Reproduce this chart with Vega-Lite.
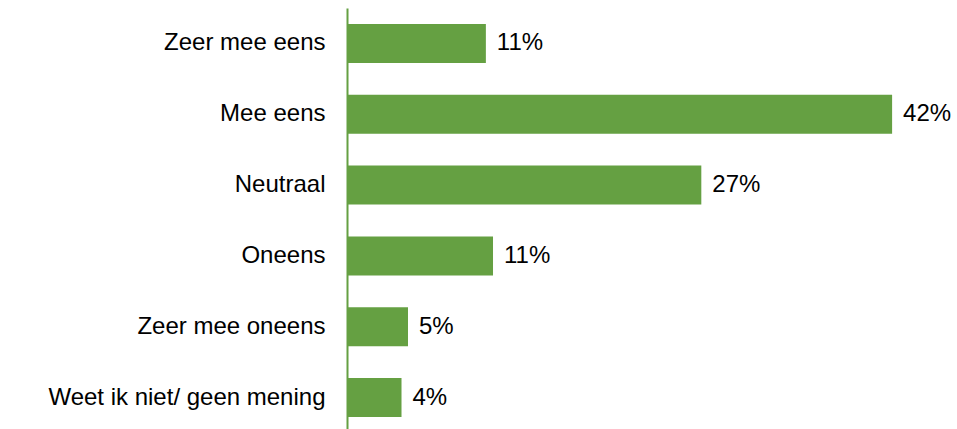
{
  "$schema": "https://vega.github.io/schema/vega-lite/v6.json",
  "autosize": "none",
  "padding": {"left": 347, "top": 8, "right": 0, "bottom": 0},
  "width": 610,
  "height": 425,
  "background": "white",
  "config": {"view": {"stroke": null}, "font": "Liberation Sans"},
  "data": {
    "values": [
      {"categorie": "Zeer mee eens", "pct": 10.7, "label": "11%"},
      {"categorie": "Mee eens", "pct": 42.0, "label": "42%"},
      {"categorie": "Neutraal", "pct": 27.3, "label": "27%"},
      {"categorie": "Oneens", "pct": 11.25, "label": "11%"},
      {"categorie": "Zeer mee oneens", "pct": 4.7, "label": "5%"},
      {"categorie": "Weet ik niet/ geen mening", "pct": 4.2, "label": "4%"}
    ]
  },
  "encoding": {
    "y": {
      "field": "categorie",
      "type": "nominal",
      "sort": null,
      "scale": {"paddingInner": 0.45, "paddingOuter": 0.226},
      "axis": {
        "title": null,
        "ticks": false,
        "labelFontSize": 24,
        "labelColor": "#000000",
        "labelPadding": 22,
        "labelLimit": 400,
        "domainColor": "#65a042",
        "domainWidth": 2,
        "grid": false
      }
    },
    "x": {
      "field": "pct",
      "type": "quantitative",
      "scale": {"domain": [0, 47], "nice": false},
      "axis": null
    }
  },
  "layer": [
    {"mark": {"type": "bar", "color": "#65a042"}},
    {
      "mark": {"type": "text", "align": "left", "baseline": "middle", "dx": 11, "fontSize": 24, "color": "#000000"},
      "encoding": {"text": {"field": "label"}}
    }
  ]
}
